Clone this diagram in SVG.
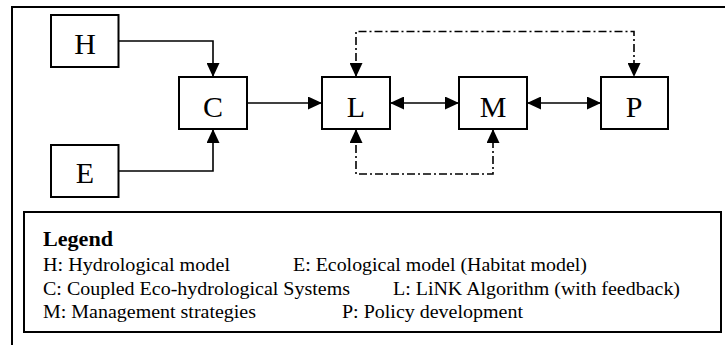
<svg xmlns="http://www.w3.org/2000/svg" width="725" height="345" viewBox="0 0 725 345">
<style>
.box{fill:#fff;stroke:#000;stroke-width:2}
.lbl{font-family:"Liberation Serif","Times New Roman",serif;font-size:30px;fill:#000;text-anchor:middle}
.ln{fill:none;stroke:#000;stroke-width:1.6}
.dd{fill:none;stroke:#000;stroke-width:1.6;stroke-dasharray:8 3 2 3}
.lg{font-family:"Liberation Serif","Times New Roman",serif;font-size:18px;fill:#000}
.lgb{font-family:"Liberation Serif","Times New Roman",serif;font-size:20px;font-weight:bold;fill:#000}
</style>
<defs>
<marker id="ah" markerUnits="userSpaceOnUse" markerWidth="14" markerHeight="13" refX="14" refY="6.5" orient="auto-start-reverse" viewBox="0 0 14 13">
<path d="M0,0 L14,6.5 L0,13 z" fill="#000"/>
</marker>
</defs>
<rect width="725" height="345" fill="#fff"/>
<rect x="12" y="7" width="730" height="360" fill="none" stroke="#000" stroke-width="2"/>

<g id="connectors">
<path class="ln" d="M119,41 H213 V77" marker-end="url(#ah)"/>
<path class="ln" d="M119,171 H213 V129" marker-end="url(#ah)"/>
<path class="ln" d="M247,103 H322" marker-end="url(#ah)"/>
<path class="ln" d="M390,103 H459" marker-start="url(#ah)" marker-end="url(#ah)"/>
<path class="ln" d="M527,103 H601" marker-start="url(#ah)" marker-end="url(#ah)"/>
<path class="dd" d="M356,77 V31.5 H634 V77" marker-start="url(#ah)" marker-end="url(#ah)"/>
<path class="dd" d="M356,129 V174 H493 V129" marker-start="url(#ah)" marker-end="url(#ah)"/>
</g>

<g id="node-H"><rect class="box" x="51" y="15" width="67.5" height="52"/><text class="lbl" x="85" y="54">H</text></g>
<g id="node-E"><rect class="box" x="51" y="145" width="67.5" height="52"/><text class="lbl" x="85" y="183">E</text></g>
<g id="node-C"><rect class="box" x="179" y="77" width="68" height="52"/><text class="lbl" x="213" y="117">C</text></g>
<g id="node-L"><rect class="box" x="322" y="77" width="68" height="52"/><text class="lbl" x="356" y="117">L</text></g>
<g id="node-M"><rect class="box" x="459" y="77" width="68" height="52"/><text class="lbl" x="493" y="117">M</text></g>
<g id="node-P"><rect class="box" x="601" y="77" width="67" height="52"/><text class="lbl" x="634" y="117">P</text></g>

<g id="legend">
<rect x="24" y="212" width="697" height="120" fill="none" stroke="#000" stroke-width="2"/>
<text class="lgb" x="43" y="245.5" textLength="70" lengthAdjust="spacingAndGlyphs">Legend</text>
<text class="lg" x="43" y="271" textLength="187" lengthAdjust="spacingAndGlyphs">H: Hydrological model</text>
<text class="lg" x="293" y="271" textLength="294" lengthAdjust="spacingAndGlyphs">E: Ecological model (Habitat model)</text>
<text class="lg" x="43" y="294.5" textLength="307" lengthAdjust="spacingAndGlyphs">C: Coupled Eco-hydrological Systems</text>
<text class="lg" x="393" y="294.5" textLength="287" lengthAdjust="spacingAndGlyphs">L: LiNK Algorithm (with feedback)</text>
<text class="lg" x="43" y="318" textLength="213" lengthAdjust="spacingAndGlyphs">M: Management strategies</text>
<text class="lg" x="342" y="318" textLength="181" lengthAdjust="spacingAndGlyphs">P: Policy development</text>
</g>
</svg>
